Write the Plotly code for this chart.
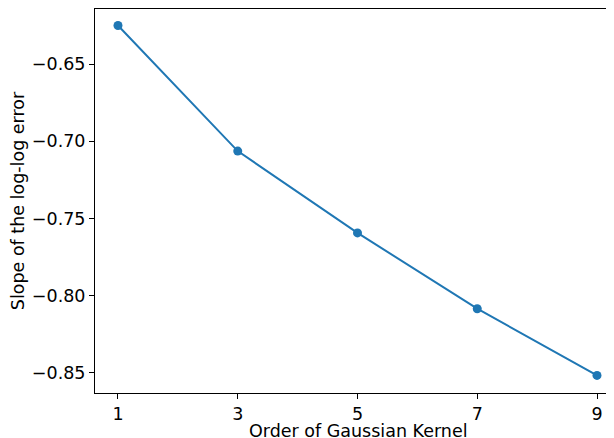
import plotly.graph_objects as go

orders = [1, 3, 5, 7, 9]
slopes = [-0.6248, -0.7063, -0.7594, -0.8086, -0.8519]
xtick_vals = [1, 3, 5, 7, 9]
ytick_vals = [-0.85, -0.80, -0.75, -0.70, -0.65]
ytick_text = ["\u22120.85", "\u22120.80", "\u22120.75", "\u22120.70", "\u22120.65"]
x_title = "Order of Gaussian Kernel"
y_title = "Slope of the log-log error"

fig = go.Figure()
fig.add_trace(go.Scatter(
    x=orders, y=slopes, mode="lines+markers",
    line=dict(color="#1f77b4", width=2),
    marker=dict(color="#1f77b4", size=9),
    showlegend=False,
))

font = dict(family="DejaVu Sans", size=17.5, color="black")
fig.update_layout(
    width=606, height=440,
    margin=dict(l=87, r=0, t=1, b=55, pad=0),
    paper_bgcolor="white", plot_bgcolor="white",
    font=font,
    xaxis=dict(
        range=[0.616, 9.284], tickvals=xtick_vals, ticktext=[str(v) for v in xtick_vals],
        showgrid=False, zeroline=False, showline=True, linecolor="black", linewidth=1,
        mirror=True, ticks="outside", ticklen=5, tickcolor="black", automargin=False,
    ),
    yaxis=dict(
        range=[-0.8633, -0.6141], tickvals=ytick_vals, ticktext=ytick_text,
        showgrid=False, zeroline=False, showline=True, linecolor="black", linewidth=1,
        ticks="outside", ticklen=5, tickcolor="black", automargin=False,
        title=dict(text=y_title, font=font, standoff=6),
    ),
)
fig.add_annotation(
    text=x_title, xref="x", x=5.02, yref="paper", y=0,
    xanchor="center", yanchor="top", yshift=-26, showarrow=False, font=font,
)
fig.write_html("out.html")
